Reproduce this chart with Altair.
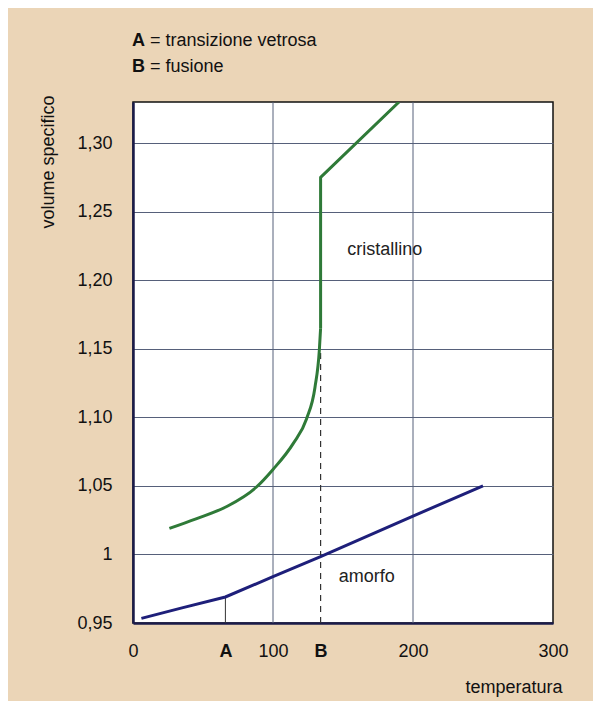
import altair as alt
import pandas as pd

# --- data ---
# crystalline curve: smooth rising part, then vertical jump at B and a straight segment
cryst_curve_x = [26, 45, 67, 88, 100, 114.5, 124, 130, 133.1, 134]
cryst_curve_y = [1.019, 1.026, 1.035, 1.049, 1.062, 1.081, 1.099, 1.122, 1.149, 1.165]
cryst_melt_x = [134, 134, 190]
cryst_melt_y = [1.165, 1.275, 1.33]

amorf_x = [6, 35, 66, 100, 134, 200, 250]
amorf_y = [0.9534, 0.961, 0.969, 0.9838, 0.9984, 1.028, 1.05]

grid_x = [100, 200]
y_ticks = [0.95, 1.00, 1.05, 1.10, 1.15, 1.20, 1.25, 1.30]
x_ticks = [0, 66, 100, 134, 200, 300]
A_x, A_top = 66, 0.969
B_x, B_top = 134, 1.15

ann_text = ["cristallino", "amorfo"]
ann_x = [153, 147]
ann_y = [1.222, 0.9836]

legend_keys = ["A", "B"]
legend_desc = ["= transizione vetrosa", "= fusione"]

FONT = "Liberation Sans"
FS = 18
BG = "#ebd5b7"
GRID = "#56607a"

curve = pd.DataFrame({"x": cryst_curve_x, "y": cryst_curve_y})
melt = pd.DataFrame({"x": cryst_melt_x, "y": cryst_melt_y, "i": range(len(cryst_melt_x))})
amorf = pd.DataFrame({"x": amorf_x, "y": amorf_y, "i": range(len(amorf_x))})

xscale = alt.Scale(domain=[0, 300], nice=False, zero=False)
yscale = alt.Scale(domain=[0.95, 1.33], nice=False, zero=False)

xaxis = alt.Axis(
    values=x_ticks, grid=False, ticks=False,
    labelExpr="datum.value == 66 ? 'A' : datum.value == 134 ? 'B' : datum.label",
    labelFontWeight={"condition": {"test": "datum.value == 66 || datum.value == 134", "value": "bold"}, "value": "normal"},
    labelFont=FONT, labelFontSize=FS, labelColor="#111", labelPadding=28,
    labelBaseline="middle", labelFlush=False, labelOverlap=False,
    domainColor="#1b1b4a", domainWidth=2.5,
    title="temperatura", titleFont=FONT, titleFontSize=FS, titleFontWeight="normal",
    titleColor="#111", titleX=429, titleY=64, titleAlign="right", titleBaseline="middle",
    titleAnchor="end",
)
yaxis = alt.Axis(
    values=y_ticks, grid=True, gridColor=GRID, gridWidth=1, ticks=False,
    labelExpr="datum.value == 1 ? '1' : replace(format(datum.value, '.2f'), '.', ',')",
    labelFont=FONT, labelFontSize=FS, labelColor="#111", labelPadding=21,
    labelBaseline="middle", labelFlush=False, labelOverlap=False,
    domainColor="#1b1b4a", domainWidth=2.5,
    title="volume specifico", titleFont=FONT, titleFontSize=FS, titleFontWeight="normal",
    titleColor="#111", titleX=-85, titleY=-7, titleAngle=270, titleAlign="right",
    titleBaseline="middle", titleAnchor="end",
)

base_x = alt.X("x:Q", scale=xscale, axis=xaxis)
base_y = alt.Y("y:Q", scale=yscale, axis=yaxis)

vgrid = alt.Chart(pd.DataFrame({"x": grid_x})).mark_rule(color=GRID, strokeWidth=1).encode(
    x=alt.X("x:Q", scale=xscale, axis=xaxis)
)

marks_df = pd.DataFrame({"x": [A_x, B_x], "y": [0.95, 0.95], "y2": [A_top, B_top]})
a_rule = alt.Chart(marks_df.iloc[[0]]).mark_rule(color="#333", strokeWidth=1).encode(
    x="x:Q", y=alt.Y("y:Q", scale=yscale, axis=yaxis), y2="y2:Q"
)
b_rule = alt.Chart(marks_df.iloc[[1]]).mark_rule(color="#333", strokeWidth=1.2, strokeDash=[6, 5]).encode(
    x="x:Q", y=alt.Y("y:Q", scale=yscale, axis=yaxis), y2="y2:Q"
)

amorf_line = alt.Chart(amorf).mark_line(color="#1e1f7a", strokeWidth=3, clip=True).encode(
    x=base_x, y=base_y, order="i:Q"
)
green = "#2f7a38"
curve_line = alt.Chart(curve).mark_line(color=green, strokeWidth=3, clip=True,
                                        interpolate="monotone").encode(x=base_x, y=base_y)
melt_line = alt.Chart(melt).mark_line(color=green, strokeWidth=3, clip=True,
                                      strokeJoin="round").encode(x=base_x, y=base_y, order="i:Q")

ann = alt.Chart(pd.DataFrame({"x": ann_x, "y": ann_y, "t": ann_text})).mark_text(
    align="left", baseline="middle", font=FONT, fontSize=FS, color="#222"
).encode(x="x:Q", y="y:Q", text="t:N")

leg_layers = []
for k, (key, desc) in enumerate(zip(legend_keys, legend_desc)):
    df = pd.DataFrame({"key": [key], "desc": [desc]})
    ypix = -61 + 26 * k
    leg_layers.append(
        alt.Chart(df).mark_text(align="left", baseline="middle", font=FONT, fontSize=FS,
                                fontWeight="bold", color="#111").encode(
            x=alt.value(-1), y=alt.value(ypix), text="key:N")
    )
    leg_layers.append(
        alt.Chart(df).mark_text(align="left", baseline="middle", font=FONT, fontSize=FS,
                                color="#111").encode(
            x=alt.value(17), y=alt.value(ypix), text="desc:N")
    )

chart = alt.layer(vgrid, a_rule, b_rule, amorf_line, curve_line, melt_line, ann, *leg_layers).properties(
    width=420, height=521,
    padding={"left": 125, "top": 94, "right": 40, "bottom": 78},
    autosize="none",
    background=BG,
).configure_view(
    fill="white", stroke="#111", strokeWidth=1.5
)

chart.save("out.html", embed_options={"renderer": "svg", "actions": False})
